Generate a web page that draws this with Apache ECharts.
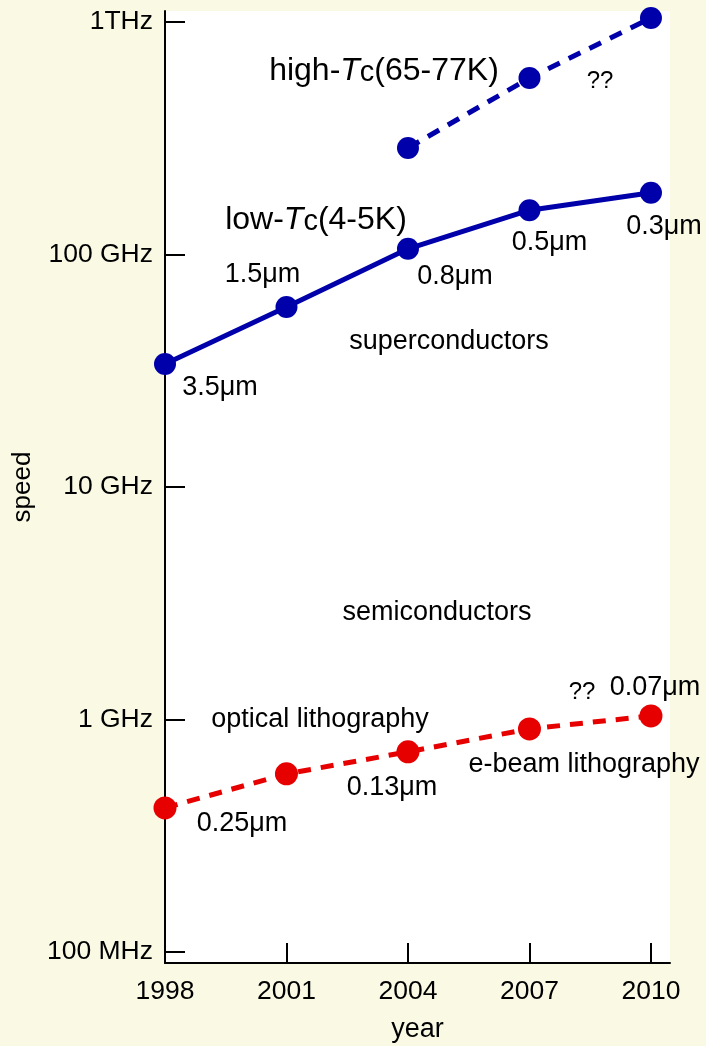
<!DOCTYPE html>
<html>
<head>
<meta charset="utf-8">
<title>speed vs year</title>
<script src="https://cdn.jsdelivr.net/npm/echarts@6/dist/echarts.min.js"></script>
<style>
html, body { margin: 0; padding: 0; background: #fafae4; }
#chart { width: 706px; height: 1046px; }
</style>
</head>
<body>
<div id="chart"></div>
<script>
// values
var years = [1998, 2001, 2004, 2007, 2010];
var lowTcGHz = [33.8, 59.4, 105.7, 155, 184];
var lowTcSizes = ['3.5μm', '1.5μm', '0.8μm', '0.5μm', '0.3μm'];
var highTcYears = [2004, 2007, 2010];
var highTcGHz = [287, 574, 1040];
var semiGHz = [0.416, 0.583, 0.725, 0.910, 1.035];
var semiSizes = ['0.25μm', '', '0.13μm', '', '0.07μm'];
var yTickHz = [1e8, 1e9, 1e10, 1e11, 1e12];
var yTickLabels = ['100 MHz', '1 GHz', '10 GHz', '100 GHz', '1THz'];
var xTickYears = [1998, 2001, 2004, 2007, 2010];

var FONT = '"Liberation Sans", Arial, Helvetica, sans-serif';
var BLUE = '#0000aa';
var RED = '#e60000';

var yTickLog = yTickHz.map(function (v) { return Math.log10(v); });

function toLog(ghz) { return Math.log10(ghz * 1e9); }

// where the size label sits relative to its dot
var lowOffsets = [[55, 24], [-24, -32], [47, 28], [20, 32], [13, 34]];
var semiOffsets = [[77, 16], null, [-16, 36], null, [4, -28]];

function buildData(xs, ghz, sizes, offsets) {
    var out = [];
    for (var i = 0; i < xs.length; i++) {
        var item = { value: [xs[i], toLog(ghz[i])] };
        if (sizes && sizes[i]) {
            item.label = {
                show: true,
                formatter: sizes[i],
                position: 'inside',
                offset: offsets[i],
                color: '#000',
                fontSize: 27,
                fontFamily: FONT
            };
        }
        out.push(item);
    }
    return out;
}

function note(text, x, y, size) {
    return {
        type: 'text',
        x: x, y: y,
        z: 10,
        style: {
            text: text,
            fill: '#000',
            font: (size || 27) + 'px ' + FONT,
            align: 'center',
            verticalAlign: 'middle'
        }
    };
}

function tcNote(pre, post, x, y) {
    return {
        type: 'text',
        x: x, y: y,
        z: 10,
        style: {
            text: '{a|' + pre + '}{t|T}{c|c}{a|' + post + '}',
            align: 'center',
            verticalAlign: 'middle',
            rich: {
                a: { fontSize: 32, fontFamily: FONT, color: '#000', lineHeight: 36, verticalAlign: 'bottom' },
                t: { fontSize: 32, fontFamily: FONT, fontStyle: 'italic', color: '#000', lineHeight: 36, verticalAlign: 'bottom' },
                c: { fontSize: 29, fontFamily: FONT, color: '#000', lineHeight: 36, verticalAlign: 'bottom' }
            }
        }
    };
}

var chart = echarts.init(document.getElementById('chart'));

chart.setOption({
    backgroundColor: '#fafae4',
    animation: false,
    grid: {
        left: 165, right: 36, top: 11, bottom: 83,
        outerBoundsMode: 'none',
        containLabel: false,
        show: true, backgroundColor: '#ffffff', borderWidth: 0
    },
    xAxis: {
        type: 'value',
        min: 1998,
        max: 2010.47,
        name: 'year',
        nameLocation: 'middle',
        nameGap: 53,
        nameTextStyle: { fontSize: 27, fontFamily: FONT, color: '#000' },
        axisLine: { onZero: false, lineStyle: { color: '#000', width: 2 } },
        axisTick: { inside: true, length: 20, customValues: xTickYears, lineStyle: { color: '#000', width: 2 } },
        axisLabel: {
            customValues: xTickYears,
            formatter: function (v) { return String(v); },
            fontSize: 26.5, fontFamily: FONT, color: '#000', margin: 15
        },
        splitLine: { show: false }
    },
    yAxis: {
        type: 'value',
        min: 7.952,
        max: 12.047,
        name: 'speed',
        nameLocation: 'middle',
        nameRotate: 90,
        nameGap: 127,
        nameTextStyle: { fontSize: 26, fontFamily: FONT, color: '#000' },
        axisLine: { show: true, onZero: false, lineStyle: { color: '#000', width: 2 } },
        axisTick: { show: true, inside: true, length: 20, customValues: yTickLog, lineStyle: { color: '#000', width: 2 } },
        axisLabel: {
            customValues: yTickLog,
            formatter: function (v) {
                for (var i = 0; i < yTickLog.length; i++) {
                    if (Math.abs(yTickLog[i] - v) < 1e-6) return yTickLabels[i];
                }
                return '';
            },
            fontSize: 26.5, fontFamily: FONT, color: '#000', margin: 12
        },
        splitLine: { show: false }
    },
    series: [
        {
            name: 'low-Tc',
            type: 'line',
            clip: false,
            symbol: 'circle',
            symbolSize: 22,
            itemStyle: { color: BLUE },
            lineStyle: { color: BLUE, width: 5 },
            data: buildData(years, lowTcGHz, lowTcSizes, lowOffsets)
        },
        {
            name: 'high-Tc',
            type: 'line',
            clip: false,
            symbol: 'circle',
            symbolSize: 22,
            itemStyle: { color: BLUE },
            lineStyle: { color: BLUE, width: 5, type: [13, 10] },
            data: buildData(highTcYears, highTcGHz)
        },
        {
            name: 'semiconductors',
            type: 'line',
            clip: false,
            symbol: 'circle',
            symbolSize: 23,
            itemStyle: { color: RED },
            lineStyle: { color: RED, width: 5, type: [13, 10] },
            data: buildData(years, semiGHz, semiSizes, semiOffsets)
        }
    ],
    graphic: [
        tcNote('high-', '(65-77K)', 384, 69),
        note('??', 600, 81, 24),
        tcNote('low-', '(4-5K)', 316, 218),
        note('superconductors', 449, 342),
        note('semiconductors', 437, 613),
        note('optical lithography', 320, 720),
        note('??', 582, 692, 24),
        note('e-beam lithography', 584, 765)
    ]
});
</script>
</body>
</html>
